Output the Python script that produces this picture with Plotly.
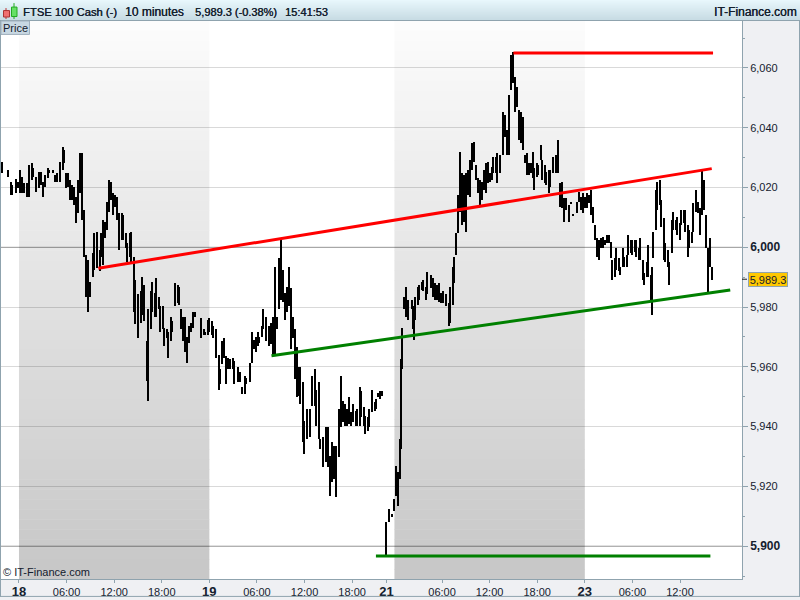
import plotly.graph_objects as go

# 10-minute bar numbers (0 = 18th 00:00), with high and low prices
bar_no = [-13,-8,-6,-5,-2,-1,1,2,4,6,8,10,11,13,15,17,18,20,22,23,26,27,29,31,33,34,36,37,39,40,42,43,45,46,48,49,51,52,54,56,57,59,61,62,64,65,67,68,70,71,73,74,76,78,79,81,82,84,85,87,88,90,92,93,95,97,98,100,101,103,104,106,107,109,110,112,113,115,116,118,120,121,123,124,126,127,129,130,132,133,
138,140,141,143,144,146,147,149,151,152,154,155,157,158,160,162,163,166,167,169,171,172,175,176,178,179,181,182,184,185,187,189,191,192,194,195,197,198,200,201,203,204,206,207,209,210,212,213,215,216,218,220,222,224,225,227,228,230,232,234,235,237,238,240,242,244,245,247,248,250,251,253,255,256,258,259,261,262,264,265,267,269,270,272,273,275,
278,280,282,284,285,287,288,289,290,291,293,294,297,298,299,300,302,303,305,306,308,309,312,313,315,316,318,319,321,323,325,326,328,329,331,332,334,335,337,338,340,341,343,344,346,347,349,350,352,353,355,356,358,359,361,362,364,366,368,369,371,372,374,375,377,378,380,381,383,384,386,387,389,390,392,393,395,396,398,399,401,402,404,406,408,409,411,412,414,416,418,419,422,424,425,427,
428,430,431,433,434,436,437,439,440,442,443,445,446,448,449,451,452,454,455,457,458,460,461,463,464,466,467,469,470,472,473,475,476,478,479,480,482,483,485,486,488,489,491,492,494,495,497,498,500,501,503,504,506,507,509,510,512,514,515,517,518,520,521,523,524]

high = [6028.6,6025.9,6021.9,6020.9,6022.9,6021.9,6025.9,6023.6,6021.6,6021.6,6027.6,6028.3,6026.6,6023.6,6025.2,6025.2,6021.9,6024.3,6026.6,6025.9,6025.9,6024.3,6024.9,6028.6,6033.6,6032.6,6024.9,6024.9,6022.6,6020.9,6020.2,6016.9,6022.6,6031.6,6031.6,6012.6,5997.5,5995.9,5988.5,5998.2,6004.9,6005.2,5999.2,6004.9,6009.2,6008.5,6015.2,6022.6,6021.9,6018.2,6017.6,6016.9,6011.6,6011.6,6010.9,6004.9,6001.5,6004.9,6005.2,5996.9,5989.2,5984.2,5985.2,5990.2,5987.5,5968.5,5979.2,5985.2,5988.5,5984.8,5989.8,5983.5,5980.2,5980.2,5973.1,5972.5,5971.5,5976.8,5975.2,5988.2,5987.5,5986.8,5979.2,5976.5,5976.5,5970.1,5973.5,5974.8,5978.2,5978.2,
5976.2,5972.5,5971.8,5975.8,5976.2,5975.2,5973.5,5972.5,5964.1,5959.1,5968.5,5969.8,5963.5,5963.1,5962.5,5963.1,5961.8,5960.1,5958.1,5953.4,5956.8,5956.4,5961.4,5971.8,5969.1,5970.1,5971.5,5970.1,5973.5,5979.2,5976.5,5973.5,5974.8,5976.5,5993.5,5976.5,5996.5,6003.2,5992.5,5984.8,5986.8,5993.5,5986.5,5976.8,5972.5,5966.5,5959.8,5959.8,5954.8,5941.8,5945.8,5945.8,5956.8,5959.1,5952.4,5954.8,5935.7,5936.4,5939.7,5939.7,5930.1,5934.7,5933.4,5933.4,5945.8,5956.8,5948.4,5947.4,5945.8,5949.8,5944.8,5947.4,5945.1,5945.8,5953.1,5951.8,5946.4,5943.4,5943.1,5945.8,5952.4,5948.1,5949.1,5951.4,5951.8,5951.8,
5908.0,5912.4,5910.7,5915.7,5926.7,5924.7,5935.7,5962.5,5973.1,5983.5,5986.8,5982.5,5982.5,5980.2,5980.2,5983.5,5986.8,5987.5,5988.5,5989.2,5986.8,5991.8,5990.8,5989.8,5988.2,5987.5,5988.2,5984.8,5985.2,5984.2,5981.5,5986.8,5993.5,5996.9,6004.9,6017.6,6031.9,6024.9,6024.2,6024.9,6025.9,6029.3,6034.9,6035.3,6027.6,6023.3,6022.6,6021.9,6025.9,6028.3,6028.6,6024.9,6026.9,6030.3,6030.3,6031.6,6030.9,6045.3,6044.3,6039.3,6051.0,6064.3,6065.3,6057.0,6053.6,6046.0,6045.3,6043.6,6030.9,6031.6,6028.3,6028.3,6031.9,6026.6,6028.3,6027.6,6034.3,6029.3,6027.6,6025.2,6025.9,6025.9,6030.3,6030.9,6035.9,6021.6,6021.9,6016.6,6016.6,6014.2,6015.2,6011.2,6015.2,6018.6,6016.9,6018.2,
6016.9,6018.2,6017.6,6019.2,6013.6,6007.5,6003.2,6002.5,6003.2,6003.5,6002.5,6004.2,6004.2,6001.9,5995.9,5996.5,5999.9,5996.5,5993.5,5999.9,5996.9,5997.5,6004.2,6002.5,6002.5,6002.5,6002.5,5999.9,6003.2,5995.9,5991.5,5995.2,6000.9,5990.8,5993.5,6005.2,6019.2,6021.9,6022.6,6015.9,6009.9,6001.5,5999.2,5994.9,6009.2,6011.9,6009.2,6010.2,6008.2,6012.6,6012.6,6012.6,6007.5,6005.9,6005.2,6014.9,6019.2,6015.2,6013.2,6025.9,6022.6,6010.9,5999.9,6003.2,5993.5]

low = [6024.9,6023.6,6017.6,6017.6,6018.2,6019.9,6018.2,6018.2,6018.2,6016.9,6016.9,6022.6,6023.6,6018.6,6019.9,6020.9,6016.9,6020.2,6023.3,6024.9,6024.9,6021.9,6021.9,6021.9,6025.9,6028.3,6019.9,6020.2,6015.9,6015.9,6014.2,6008.2,6011.6,6018.2,6009.2,5996.9,5983.5,5978.5,5983.2,5990.2,5992.5,5993.2,5991.9,5996.9,5994.2,6003.2,6005.9,6011.9,6015.9,6010.9,6013.6,6009.2,5999.2,6002.5,6002.5,5999.9,5995.2,5996.9,5995.2,5978.2,5974.2,5969.8,5974.8,5977.5,5975.2,5955.1,5948.4,5972.5,5978.2,5976.5,5976.5,5979.2,5971.8,5972.5,5966.8,5969.8,5963.1,5968.5,5971.5,5980.2,5981.5,5980.8,5972.5,5968.5,5965.1,5961.4,5968.1,5971.5,5973.1,5976.8,
5969.8,5970.5,5970.5,5970.8,5971.5,5970.8,5969.8,5963.1,5952.1,5954.1,5960.8,5963.1,5954.1,5959.1,5959.1,5959.1,5954.1,5954.8,5954.8,5950.8,5950.8,5954.1,5954.8,5961.4,5965.8,5965.1,5966.8,5968.1,5970.1,5972.5,5968.5,5966.8,5967.5,5964.1,5963.5,5972.5,5979.2,5982.5,5981.8,5975.8,5978.2,5980.2,5965.8,5969.8,5955.8,5949.8,5950.1,5947.4,5934.7,5930.7,5935.7,5936.4,5946.8,5946.8,5940.1,5935.7,5932.4,5926.4,5928.1,5926.4,5916.7,5921.4,5922.4,5916.4,5929.7,5939.7,5941.4,5940.1,5940.1,5940.8,5940.1,5941.4,5940.1,5940.1,5940.1,5943.1,5940.1,5937.4,5938.4,5939.7,5944.8,5945.1,5945.8,5949.8,5949.1,5950.1,
5896.7,5908.0,5909.7,5911.7,5916.7,5913.4,5922.4,5932.4,5959.1,5979.2,5976.8,5975.8,5979.2,5972.5,5969.1,5975.8,5980.8,5982.5,5985.8,5985.2,5982.5,5984.2,5986.5,5983.5,5982.5,5982.5,5981.8,5981.5,5981.5,5980.2,5973.5,5974.8,5980.8,5988.2,5997.5,6004.9,6011.9,6007.5,6008.5,6005.2,6017.6,6016.9,6025.9,6028.6,6022.6,6018.2,6014.2,6015.9,6019.2,6018.2,6021.6,6021.9,6022.6,6024.9,6024.9,6021.6,6024.9,6030.9,6036.9,6030.9,6030.9,6052.6,6055.0,6045.3,6047.0,6035.9,6034.9,6032.6,6028.3,6024.3,6024.3,6024.9,6023.3,6019.2,6023.6,6024.3,6029.3,6022.6,6021.6,6020.9,6018.2,6020.2,6024.9,6024.9,6024.9,6013.6,6013.2,6008.6,6012.6,6008.6,6014.6,6010.6,6011.6,6015.2,6012.6,6011.6,
6013.2,6013.2,6014.9,6010.9,6008.2,6002.5,5996.9,5995.9,5999.9,5999.9,6000.9,6001.5,6001.5,5996.5,5989.2,5990.2,5992.5,5991.9,5990.8,5993.5,5993.5,5993.5,5997.5,5998.2,5997.5,5998.5,5996.9,5995.9,5995.9,5989.2,5987.5,5990.2,5990.2,5982.5,5977.5,5996.5,6005.9,6012.6,6014.2,6006.9,5995.9,5994.9,5993.5,5987.5,5998.2,6005.9,6005.9,6004.2,6002.5,6007.5,6008.2,6005.2,5996.9,5999.9,6001.5,6005.2,6011.9,6011.6,6004.2,6010.9,6012.6,5999.9,5984.8,5993.5,5989.2]

BIG = '<b style="font-size:12px">%s</b>'
y_ticks = [5900, 5920, 5940, 5960, 5980, 6000, 6020, 6040, 6060]
y_labels = [BIG % "5,900", "5,920", "5,940", "5,960", "5,980", BIG % "6,000", "6,020", "6,040", "6,060"]
y_minor = [5890, 5910, 5930, 5950, 5970, 5990, 6010, 6030, 6050, 6070]
DAY = '<b style="font-size:13px">%s</b>'
x_ticks = [0, 36, 72, 108, 144, 180, 216, 252, 278, 320, 356, 392, 428, 464, 500]
x_labels = [DAY % "18", "06:00", "12:00", "18:00", DAY % "19", "06:00", "12:00", "18:00", DAY % "21",
            "06:00", "12:00", "18:00", DAY % "23", "06:00", "12:00"]

resistance_x = [60, 524]
resistance_y = [5993.0, 6026.3]
support_x = [191, 538]
support_y = [5963.7, 5985.7]
top_x = [374, 525]
top_y = [6065.0, 6065.0]
bottom_x = [270, 523]
bottom_y = [5896.7, 5896.7]
shaded_days = [(0, 144), (284, 428)]
last_price = 5989.3

W, H = 800, 600
L, R, T, B = 1, 742, 21, 582
def px(x): return (x - L) / (R - L)
def py(y): return (B - y) / (B - T)
FONT = "Liberation Sans"
TXT = "#14202e"
EDGE = "#8fa3ae"

shapes = []
for a, b in shaded_days:
    n = 56
    for k in range(n):
        c = int(252 - (252 - 200) * k / (n - 1))
        shapes.append(dict(type="rect", xref="x", yref="paper", x0=a, x1=b,
                           y0=1 - (k + 1.05) / n, y1=1 - k / n, layer="below",
                           line_width=0, fillcolor=f"rgb({c},{c},{c})"))
for k in range(20):
    t = k / 19
    col = f"rgb({int(232-32*t)},{int(247-27*t)},{int(252-24*t)})"
    shapes.append(dict(type="rect", xref="paper", yref="paper", x0=px(0), x1=px(800),
                       y0=py(k + 1.1), y1=py(k), line_width=0, fillcolor=col, layer="below"))
shapes += [
    dict(type="line", xref="paper", yref="paper", x0=px(0), x1=px(800), y0=py(20.5), y1=py(20.5), line=dict(color=EDGE, width=1)),
    dict(type="line", xref="paper", yref="paper", x0=px(0.5), x1=px(0.5), y0=py(21), y1=py(600), line=dict(color=EDGE, width=1)),
    dict(type="line", xref="paper", yref="paper", x0=px(0), x1=px(800), y0=py(599.5), y1=py(599.5), line=dict(color=EDGE, width=1)),
    dict(type="line", xref="paper", yref="paper", x0=px(799.5), x1=px(799.5), y0=py(21), y1=py(600), line=dict(color=EDGE, width=1)),
    dict(type="rect", xref="paper", yref="paper", x0=px(1), x1=px(29.5), y0=py(34.5), y1=py(21),
         fillcolor="#c8d8e2", line=dict(color="#9fb0bd", width=1)),
    dict(type="line", xref="paper", yref="paper", x0=px(6), x1=px(6), y0=py(19), y1=py(8), line=dict(color="#b33", width=1)),
    dict(type="rect", xref="paper", yref="paper", x0=px(3.5), x1=px(9.5), y0=py(17), y1=py(10.5), fillcolor="#f07070", line=dict(color="#a33", width=1)),
    dict(type="line", xref="paper", yref="paper", x0=px(14), x1=px(14), y0=py(19), y1=py(3), line=dict(color="#2a2", width=1)),
    dict(type="rect", xref="paper", yref="paper", x0=px(11.5), x1=px(17), y0=py(16.5), y1=py(7), fillcolor="#66e066", line=dict(color="#2a2", width=1)),
    dict(type="line", xref="paper", yref="y", x0=0, x1=1, y0=6000, y1=6000, layer="between", line=dict(color="rgba(0,0,0,0.30)", width=1)),
    dict(type="line", xref="paper", yref="y", x0=0, x1=1, y0=5900, y1=5900, layer="between", line=dict(color="rgba(0,0,0,0.30)", width=1)),
    dict(type="line", xref="paper", yref="y", x0=px(742), x1=px(747), y0=last_price, y1=last_price, line=dict(color="#222", width=1)),
]

fig = go.Figure()
fig.add_trace(go.Bar(x=bar_no, base=low, y=[h - l for h, l in zip(high, low)], width=0.9,
                     marker=dict(color="#000000", line_width=0), hoverinfo="skip", showlegend=False))
for xs, ys, col in [(resistance_x, resistance_y, "#ff0000"), (support_x, support_y, "#008000"),
                    (top_x, top_y, "#ff0000"), (bottom_x, bottom_y, "#008000")]:
    fig.add_trace(go.Scatter(x=xs, y=ys, mode="lines", line=dict(color=col, width=3),
                             hoverinfo="skip", showlegend=False))

SHADOW = "0.35px 0 0 #14202e"
def label(x, y, text, size=12, shadow=SHADOW, **kw):
    d = dict(xref="paper", yref="paper", x=px(x), y=py(y), text=text, showarrow=False,
             xanchor="left", yanchor="middle", borderwidth=0, borderpad=0,
             font=dict(family=FONT, size=size, color=TXT, shadow=shadow))
    d.update(kw)
    return d

annotations = [
    label(23, 11.5, "FTSE 100 Cash (-)", size=11.2),
    label(125, 11.5, "10 minutes", size=12),
    label(195, 11.5, "5,989.3 (-0.38%)", size=11),
    label(285, 11.5, "15:41:53", size=11),
    label(797, 11.5, "IT-Finance.com", size=12, xanchor="right"),
    label(3, 28, "Price", size=11, shadow="none"),
    label(3, 575, "© IT-Finance.com", size=11, shadow="none"),
    dict(xref="paper", yref="y", x=px(767.5), y=last_price, text="5,989.3", showarrow=False,
         font=dict(family=FONT, size=11, color=TXT), bgcolor="#ffc800", bordercolor=EDGE,
         borderwidth=1, borderpad=0, width=38, height=13, xanchor="center", yanchor="middle"),
]

fig.update_layout(
    width=W, height=H, margin=dict(l=L, r=W - R, t=T, b=H - B, pad=0), autosize=False,
    paper_bgcolor="#eff0f3", plot_bgcolor="#ffffff", shapes=shapes, annotations=annotations,
    barmode="overlay", bargap=0, hovermode=False,
    font=dict(family=FONT, size=11, color=TXT),
    xaxis=dict(range=[-13.6, 546.9], tickmode="array", tickvals=x_ticks, ticktext=x_labels,
               showgrid=False, zeroline=False, ticks="outside", ticklen=3, tickcolor=EDGE,
               showline=True, linecolor=EDGE, linewidth=1, tickfont=dict(family=FONT, size=11, color=TXT)),
    yaxis=dict(range=[5889, 6075.7], side="right", tickmode="array", tickvals=y_ticks, ticktext=y_labels,
               minor=dict(tickmode="array", tickvals=y_minor, ticks="outside", ticklen=2, tickcolor=EDGE, showgrid=False),
               showgrid=True, gridcolor="rgba(0,0,0,0.15)", gridwidth=1, zeroline=False,
               ticks="outside", ticklen=5, tickcolor=EDGE, showline=True, linecolor=EDGE, linewidth=1,
               tickfont=dict(family=FONT, size=11, color=TXT)),
)
fig.write_html("out.html", config=dict(displayModeBar=False),
               post_script="document.body.style.margin='0';")
